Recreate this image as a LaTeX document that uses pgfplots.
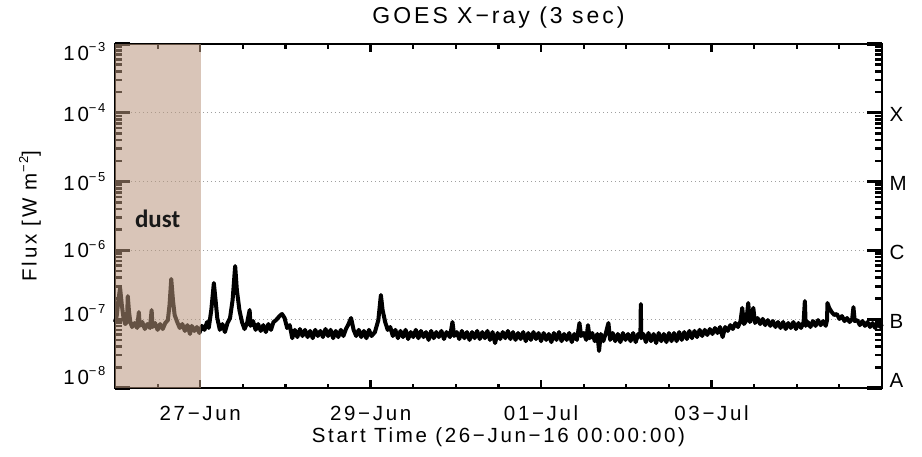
\documentclass[border=0pt]{standalone}
\usepackage{pgfplots}
\pgfplotsset{compat=1.18}
\usepackage{fontspec}
\setmainfont{Liberation Sans}[LetterSpace=13]
\newfontfamily\dustfont{Carlito}
\newcommand\sups[1]{\raisebox{0.42em}{\fontsize{13}{13}\selectfont #1}}
\definecolor{dustfill}{RGB}{185,150,125}
\begin{document}
\begin{tikzpicture}
\begin{axis}[
  at={(0pt,0pt)}, anchor=south west,
  scale only axis, width=767pt, height=344pt,
  ymode=log, xmin=0, xmax=9, ymin=1e-8, ymax=1e-3,
  clip=false,
  axis line style={line width=1.8pt},
  major tick length=0pt, minor tick length=0pt,
  xtick={1,3,5,7},
  xticklabels={27−Jun,29−Jun,01−Jul,03−Jul},
  ytick={1e-8,1e-7,1e-6,1e-5,1e-4,1e-3},
  minor ytick={},
  yticklabels={\raisebox{11pt}{10\sups{−8}},\raisebox{5pt}{10\sups{−7}},10\sups{−6},\raisebox{-1pt}{10\sups{−5}},\raisebox{-1pt}{10\sups{−4}},\raisebox{-9pt}{10\sups{−3}}},
  xticklabel style={font=\fontsize{20.5}{24}\selectfont, anchor=base, yshift=-32pt},
  yticklabel style={font=\fontsize{20.5}{24}\selectfont, anchor=base east, yshift=-7.5pt, xshift=-6pt},
  ymajorgrids,
  major grid style={gray!75, line width=0.8pt, dash pattern=on 1pt off 3pt},
  title={GOES X−ray (3 sec)},
  title style={font=\fontsize{23}{26}\selectfont, at={(axis description cs:0.5,1)}, anchor=base, yshift=15pt},
  xlabel={Start Time (26−Jun−16 00:00:00)},
  xlabel style={font=\fontsize{20.5}{24}\selectfont, at={(axis description cs:0.5,0)}, anchor=base, yshift=-54pt},
  ylabel={Flux [W m\sups{−2}]},
  ylabel style={font=\fontsize{20.5}{24}\selectfont, at={(axis description cs:-0.092,0.5)}, anchor=south},
]
\addplot[black, line width=4pt, line join=round] coordinates {
(0.00,9.1e-8) (0.02,1.11e-7) (0.04,1.90e-7) (0.06,2.84e-7) (0.08,1.61e-7) (0.10,1.04e-7)
(0.12,8.5e-8) (0.14,9.1e-8) (0.15,2.17e-7) (0.165,1.27e-7) (0.18,9.1e-8) (0.20,7.7e-8)
(0.23,8.8e-8) (0.26,7.45e-8) (0.28,1.27e-7) (0.29,8.0e-8) (0.32,9.1e-8) (0.35,7.2e-8)
(0.38,8.5e-8) (0.41,7.45e-8) (0.43,1.36e-7) (0.44,7.7e-8) (0.47,8.8e-8) (0.50,7.0e-8)
(0.53,8.5e-8) (0.56,7.2e-8) (0.59,8.8e-8) (0.62,9.7e-8) (0.64,1.61e-7) (0.66,3.84e-7)
(0.68,1.90e-7) (0.70,1.15e-7) (0.73,9.1e-8) (0.76,7.45e-8) (0.79,8.5e-8) (0.82,6.75e-8)
(0.85,8.2e-8) (0.88,6.1e-8) (0.90,8.0e-8) (0.93,6.75e-8) (0.96,7.7e-8) (0.99,6.3e-8)
(1.02,8.0e-8) (1.05,7.0e-8) (1.08,9.1e-8) (1.10,7.45e-8) (1.13,1.36e-7) (1.16,3.36e-7)
(1.18,1.90e-7) (1.20,1.04e-7) (1.23,7.0e-8) (1.26,8.5e-8) (1.29,6.5e-8) (1.32,8.8e-8)
(1.35,1.04e-7) (1.38,1.90e-7) (1.41,5.93e-7) (1.43,2.66e-7) (1.46,1.36e-7) (1.49,9.1e-8)
(1.52,7.2e-8) (1.55,8.8e-8) (1.58,1.36e-7) (1.59,8.0e-8) (1.62,9.4e-8) (1.65,7.0e-8)
(1.68,8.5e-8) (1.71,6.75e-8) (1.74,8.2e-8) (1.77,6.5e-8) (1.80,8.5e-8) (1.83,7.0e-8)
(1.86,9.1e-8) (1.89,9.7e-8) (1.93,1.11e-7) (1.96,1.19e-7) (1.99,1.04e-7) (2.02,7.45e-8)
(2.05,8.2e-8) (2.08,5.3e-8) (2.11,7.0e-8) (2.14,5.5e-8) (2.17,7.2e-8) (2.20,5.7e-8)
(2.23,7.0e-8) (2.26,5.5e-8) (2.29,6.75e-8) (2.32,5.3e-8) (2.35,7.0e-8) (2.38,5.7e-8)
(2.41,6.75e-8) (2.44,5.5e-8) (2.47,7.2e-8) (2.50,5.7e-8) (2.53,7.0e-8) (2.56,5.3e-8)
(2.59,6.75e-8) (2.62,5.5e-8) (2.65,7.0e-8) (2.68,5.7e-8) (2.71,7.2e-8) (2.74,8.5e-8)
(2.77,1.04e-7) (2.80,7.0e-8) (2.83,5.7e-8) (2.86,7.0e-8) (2.89,5.5e-8) (2.92,6.75e-8)
(2.95,5.3e-8) (2.98,7.0e-8) (3.01,5.7e-8) (3.05,6.5e-8) (3.09,9.7e-8) (3.12,2.25e-7)
(3.14,1.36e-7) (3.17,9.1e-8) (3.20,7.0e-8) (3.23,7.7e-8) (3.26,5.7e-8) (3.29,7.0e-8)
(3.32,5.3e-8) (3.35,6.75e-8) (3.38,5.5e-8) (3.41,7.0e-8) (3.44,5.15e-8) (3.47,6.5e-8)
(3.50,5.5e-8) (3.53,7.0e-8) (3.56,5.3e-8) (3.59,6.75e-8) (3.62,5.5e-8) (3.65,6.5e-8)
(3.68,5.0e-8) (3.71,6.75e-8) (3.74,5.3e-8) (3.77,6.5e-8) (3.80,5.5e-8) (3.83,6.75e-8)
(3.86,5.15e-8) (3.89,6.5e-8) (3.93,5.5e-8) (3.96,9.1e-8) (3.98,5.7e-8) (4.01,6.5e-8)
(4.04,5.15e-8) (4.07,6.75e-8) (4.10,5.3e-8) (4.13,6.5e-8) (4.16,5.0e-8) (4.19,6.5e-8)
(4.22,5.3e-8) (4.25,6.75e-8) (4.28,5.15e-8) (4.31,6.5e-8) (4.34,5.3e-8) (4.37,6.75e-8)
(4.40,5.0e-8) (4.43,6.5e-8) (4.46,4.5e-8) (4.49,6.3e-8) (4.52,5.15e-8) (4.55,6.5e-8)
(4.58,5.3e-8) (4.61,6.75e-8) (4.64,5.15e-8) (4.67,6.5e-8) (4.70,5.0e-8) (4.73,6.3e-8)
(4.76,5.15e-8) (4.79,6.5e-8) (4.82,4.8e-8) (4.85,6.3e-8) (4.88,5.0e-8) (4.91,6.5e-8)
(4.94,5.15e-8) (4.97,6.3e-8) (5.00,4.8e-8) (5.03,6.3e-8) (5.06,5.0e-8) (5.09,6.1e-8)
(5.12,4.65e-8) (5.15,6.3e-8) (5.18,5.0e-8) (5.21,6.5e-8) (5.24,4.8e-8) (5.27,6.1e-8)
(5.30,5.0e-8) (5.33,6.3e-8) (5.36,4.65e-8) (5.39,6.1e-8) (5.42,5.0e-8) (5.45,8.8e-8)
(5.47,5.7e-8) (5.50,6.3e-8) (5.53,5.0e-8) (5.55,8.2e-8) (5.57,5.3e-8) (5.60,6.3e-8)
(5.63,4.8e-8) (5.66,6.1e-8) (5.68,3.45e-8) (5.70,6.1e-8) (5.73,4.8e-8) (5.76,6.3e-8)
(5.79,8.8e-8) (5.81,5.0e-8) (5.84,6.3e-8) (5.87,4.8e-8) (5.90,6.1e-8) (5.93,4.65e-8)
(5.96,6.3e-8) (5.99,5.0e-8) (6.02,6.1e-8) (6.05,4.8e-8) (6.08,6.3e-8) (6.11,4.65e-8)
(6.14,6.1e-8) (6.165,5.7e-8) (6.17,1.66e-7) (6.175,5.3e-8) (6.20,6.1e-8) (6.23,4.65e-8)
(6.26,6.3e-8) (6.29,4.8e-8) (6.32,6.1e-8) (6.35,4.5e-8) (6.38,6.3e-8) (6.41,4.8e-8)
(6.44,6.1e-8) (6.47,4.65e-8) (6.50,6.3e-8) (6.53,4.8e-8) (6.56,6.3e-8) (6.59,4.8e-8)
(6.62,6.5e-8) (6.65,5.0e-8) (6.68,6.5e-8) (6.71,5.15e-8) (6.74,6.75e-8) (6.77,5.3e-8)
(6.80,6.75e-8) (6.83,5.5e-8) (6.86,7.0e-8) (6.89,5.7e-8) (6.92,7.0e-8) (6.95,5.9e-8)
(6.98,7.2e-8) (7.01,6.1e-8) (7.04,7.45e-8) (7.07,6.3e-8) (7.10,7.7e-8) (7.13,5.5e-8)
(7.16,7.7e-8) (7.19,6.75e-8) (7.22,8.2e-8) (7.25,7.2e-8) (7.28,8.8e-8) (7.31,7.7e-8)
(7.34,9.4e-8) (7.36,1.46e-7) (7.38,8.5e-8) (7.41,9.7e-8) (7.43,1.72e-7) (7.45,9.1e-8)
(7.47,1.04e-7) (7.49,1.46e-7) (7.51,8.8e-8) (7.54,1.04e-7) (7.57,8.5e-8) (7.60,1.01e-7)
(7.63,8.2e-8) (7.66,9.7e-8) (7.69,8.0e-8) (7.72,9.4e-8) (7.75,7.7e-8) (7.78,9.1e-8)
(7.81,7.45e-8) (7.84,9.1e-8) (7.87,7.2e-8) (7.90,8.8e-8) (7.93,7.45e-8) (7.96,9.1e-8)
(7.99,7.2e-8) (8.02,8.8e-8) (8.05,7.45e-8) (8.08,9.1e-8) (8.095,1.84e-7) (8.105,8.0e-8)
(8.13,9.1e-8) (8.16,7.7e-8) (8.19,9.4e-8) (8.22,8.0e-8) (8.25,9.7e-8) (8.28,8.2e-8)
(8.31,9.4e-8) (8.34,8.0e-8) (8.355,9.7e-8) (8.36,1.72e-7) (8.38,1.46e-7) (8.41,1.27e-7)
(8.44,1.15e-7) (8.47,1.19e-7) (8.50,1.01e-7) (8.53,1.11e-7) (8.56,9.4e-8) (8.59,1.04e-7)
(8.62,9.1e-8) (8.65,1.01e-7) (8.665,1.50e-7) (8.68,9.4e-8) (8.71,9.7e-8) (8.74,8.2e-8)
(8.77,9.4e-8) (8.80,8.0e-8) (8.83,9.1e-8) (8.86,7.7e-8) (8.89,8.8e-8) (8.92,7.45e-8)
(8.95,8.8e-8) (8.98,7.7e-8) (9.00,8.5e-8)
};
% tick marks (inward, on all four sides), endpoints in axis coordinates
\pgfplotsinvokeforeach{1,3,5,7}{
  \draw[line width=2.4pt] (axis cs:#1,1e-8) -- (axis cs:#1,1.31e-8);
  \draw[line width=2.4pt] (axis cs:#1,1e-3) -- (axis cs:#1,7.65e-4);
}
\pgfplotsinvokeforeach{0.5,1.5,2,2.5,3.5,4,4.5,5.5,6,6.5,7.5,8,8.5}{
  \draw[line width=2.2pt] (axis cs:#1,1e-8) -- (axis cs:#1,1.16e-8);
  \draw[line width=2.2pt] (axis cs:#1,1e-3) -- (axis cs:#1,8.6e-4);
}
\pgfplotsinvokeforeach{1e-8,1e-7,1e-6,1e-5,1e-4,1e-3}{
  \draw[line width=3.2pt] (axis cs:0,#1) -- (axis cs:0.176,#1);
  \draw[line width=3.2pt] (axis cs:9,#1) -- (axis cs:8.824,#1);
}
\pgfplotsinvokeforeach{2e-8,3e-8,4e-8,5e-8,6e-8,7e-8,8e-8,9e-8,2e-7,3e-7,4e-7,5e-7,6e-7,7e-7,8e-7,9e-7,2e-6,3e-6,4e-6,5e-6,6e-6,7e-6,8e-6,9e-6,2e-5,3e-5,4e-5,5e-5,6e-5,7e-5,8e-5,9e-5,2e-4,3e-4,4e-4,5e-4,6e-4,7e-4,8e-4,9e-4}{
  \draw[line width=2.6pt] (axis cs:0,#1) -- (axis cs:0.088,#1);
  \draw[line width=2.6pt] (axis cs:9,#1) -- (axis cs:8.912,#1);
}
\addplot[draw=none, fill=dustfill, fill opacity=0.55] coordinates {(0,1e-8) (1.01,1e-8) (1.01,1e-3) (0,1e-3)} -- cycle;
\node[font=\dustfont\bfseries\fontsize{25}{28}\selectfont, text=black!90] at (axis cs:0.5,2.86e-6) {dust};
\node[anchor=west, font=\fontsize{20.5}{24}\selectfont] at (axis cs:9,1e-8) [xshift=4pt, yshift=8pt] {A};
\node[anchor=west, font=\fontsize{20.5}{24}\selectfont] at (axis cs:9,1e-7) [xshift=4pt, yshift=-2pt] {B};
\node[anchor=west, font=\fontsize{20.5}{24}\selectfont] at (axis cs:9,1e-6) [xshift=4pt, yshift=-2pt] {C};
\node[anchor=west, font=\fontsize{20.5}{24}\selectfont] at (axis cs:9,1e-5) [xshift=4pt, yshift=-2pt] {M};
\node[anchor=west, font=\fontsize{20.5}{24}\selectfont] at (axis cs:9,1e-4) [xshift=4pt, yshift=-2pt] {X};
\end{axis}
\path (-115pt,-69pt) rectangle (807pt,388pt);
\end{tikzpicture}
\end{document}
